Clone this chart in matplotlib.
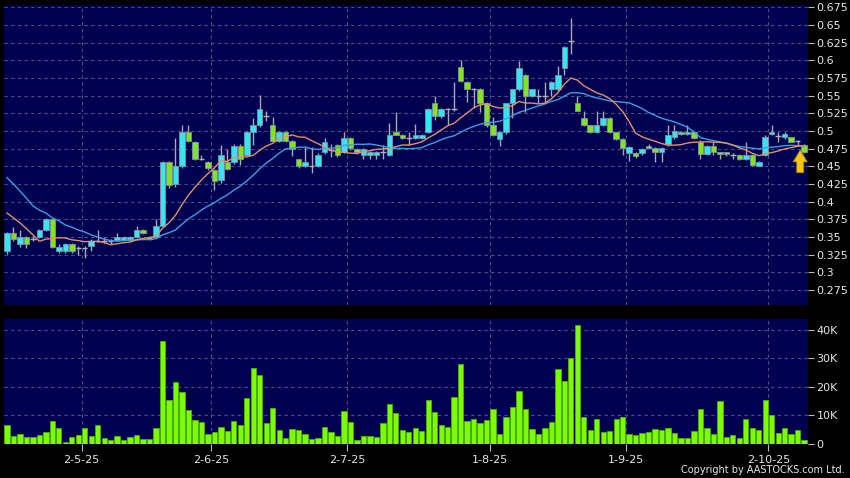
import numpy as np
import pandas as pd
import matplotlib
matplotlib.use("Agg")
import matplotlib.pyplot as plt
from matplotlib.ticker import FuncFormatter

# daily candles (HKD)
opens = [0.330, 0.355, 0.340, 0.350, 0.347, 0.350, 0.360, 0.375, 0.330, 0.330,
         0.340, 0.335, 0.335, 0.337, 0.345, 0.345, 0.344, 0.346, 0.346, 0.346,
         0.350, 0.360, 0.350, 0.350, 0.366, 0.456, 0.425, 0.450, 0.499, 0.485,
         0.461, 0.456, 0.445, 0.431, 0.456, 0.456, 0.479, 0.466, 0.499, 0.509,
         0.521, 0.509, 0.486, 0.499, 0.486, 0.460, 0.450, 0.450, 0.450, 0.470,
         0.473, 0.480, 0.471, 0.490, 0.475, 0.466, 0.466, 0.466, 0.471, 0.466,
         0.499, 0.495, 0.490, 0.490, 0.490, 0.499, 0.540, 0.521, 0.531, 0.531,
         0.590, 0.570, 0.560, 0.560, 0.539, 0.508, 0.488, 0.498, 0.539, 0.559,
         0.579, 0.549, 0.549, 0.550, 0.559, 0.559, 0.589, 0.628, 0.540, 0.519,
         0.508, 0.499, 0.508, 0.519, 0.498, 0.489, 0.469, 0.469, 0.469, 0.479,
         0.476, 0.470, 0.481, 0.491, 0.499, 0.496, 0.499, 0.485, 0.467, 0.479,
         0.470, 0.470, 0.466, 0.466, 0.461, 0.466, 0.451, 0.466, 0.496, 0.4925,
         0.491, 0.491, 0.4855, 0.480]
highs = [0.357, 0.364, 0.360, 0.352, 0.352, 0.362, 0.377, 0.376, 0.340, 0.342,
         0.342, 0.337, 0.337, 0.347, 0.360, 0.350, 0.347, 0.355, 0.352, 0.352,
         0.365, 0.361, 0.352, 0.375, 0.457, 0.458, 0.490, 0.509, 0.509, 0.486,
         0.466, 0.458, 0.446, 0.480, 0.474, 0.481, 0.481, 0.500, 0.519, 0.551,
         0.528, 0.520, 0.500, 0.500, 0.487, 0.461, 0.477, 0.477, 0.469, 0.490,
         0.481, 0.481, 0.499, 0.491, 0.476, 0.476, 0.472, 0.472, 0.480, 0.511,
         0.527, 0.496, 0.499, 0.510, 0.496, 0.532, 0.550, 0.532, 0.533, 0.570,
         0.600, 0.571, 0.561, 0.561, 0.541, 0.520, 0.500, 0.540, 0.560, 0.599,
         0.580, 0.560, 0.559, 0.569, 0.571, 0.592, 0.620, 0.660, 0.550, 0.529,
         0.509, 0.529, 0.529, 0.520, 0.499, 0.490, 0.479, 0.470, 0.476, 0.482,
         0.477, 0.477, 0.508, 0.509, 0.500, 0.509, 0.500, 0.487, 0.480, 0.485,
         0.471, 0.471, 0.469, 0.467, 0.485, 0.467, 0.457, 0.494, 0.509, 0.499,
         0.499, 0.492, 0.487, 0.481]
lows = [0.326, 0.344, 0.336, 0.335, 0.344, 0.348, 0.358, 0.335, 0.327, 0.327,
        0.328, 0.325, 0.320, 0.330, 0.343, 0.342, 0.340, 0.344, 0.344, 0.345,
        0.349, 0.354, 0.346, 0.349, 0.365, 0.420, 0.421, 0.448, 0.485, 0.459,
        0.459, 0.445, 0.417, 0.426, 0.445, 0.454, 0.452, 0.464, 0.480, 0.505,
        0.514, 0.485, 0.485, 0.485, 0.465, 0.447, 0.449, 0.441, 0.449, 0.468,
        0.463, 0.463, 0.469, 0.473, 0.468, 0.461, 0.461, 0.461, 0.461, 0.464,
        0.494, 0.489, 0.480, 0.489, 0.489, 0.497, 0.515, 0.519, 0.509, 0.529,
        0.569, 0.541, 0.532, 0.527, 0.506, 0.493, 0.479, 0.496, 0.519, 0.557,
        0.527, 0.548, 0.539, 0.539, 0.549, 0.557, 0.579, 0.609, 0.528, 0.507,
        0.497, 0.497, 0.507, 0.497, 0.487, 0.466, 0.458, 0.462, 0.466, 0.474,
        0.456, 0.456, 0.479, 0.489, 0.494, 0.494, 0.488, 0.461, 0.466, 0.466,
        0.461, 0.465, 0.461, 0.459, 0.459, 0.451, 0.450, 0.464, 0.494, 0.485,
        0.489, 0.484, 0.479, 0.469]
closes = [0.355, 0.347, 0.350, 0.340, 0.347, 0.360, 0.375, 0.336, 0.336, 0.340,
          0.330, 0.335, 0.335, 0.345, 0.345, 0.345, 0.344, 0.350, 0.350, 0.350,
          0.360, 0.356, 0.347, 0.365, 0.456, 0.424, 0.450, 0.499, 0.486, 0.461,
          0.461, 0.447, 0.429, 0.466, 0.446, 0.479, 0.460, 0.499, 0.509, 0.531,
          0.521, 0.486, 0.499, 0.486, 0.475, 0.450, 0.456, 0.450, 0.466, 0.485,
          0.473, 0.466, 0.490, 0.476, 0.470, 0.475, 0.470, 0.470, 0.471, 0.495,
          0.495, 0.490, 0.490, 0.495, 0.495, 0.531, 0.521, 0.531, 0.531, 0.531,
          0.571, 0.560, 0.560, 0.540, 0.508, 0.494, 0.498, 0.539, 0.559, 0.589,
          0.549, 0.559, 0.549, 0.550, 0.5695, 0.579, 0.619, 0.628, 0.529, 0.509,
          0.499, 0.508, 0.519, 0.499, 0.489, 0.476, 0.478, 0.465, 0.475, 0.476,
          0.470, 0.476, 0.495, 0.500, 0.496, 0.499, 0.490, 0.467, 0.479, 0.470,
          0.467, 0.467, 0.466, 0.461, 0.466, 0.452, 0.456, 0.491, 0.499, 0.4925,
          0.496, 0.485, 0.4855, 0.470]

# volume in thousands of shares
volume_k = [6.5, 2.6, 3.3, 2.4, 2.4, 2.9, 4.0, 7.9, 5.6, 0.6,
            2.4, 2.9, 5.6, 2.6, 6.4, 1.8, 1.4, 2.8, 1.1, 2.2,
            3.1, 1.5, 1.5, 5.3, 36.1, 15.3, 21.8, 18.1, 11.9, 8.2,
            7.6, 3.3, 3.9, 5.8, 4.4, 8.1, 6.4, 16.0, 26.5, 24.0,
            7.2, 12.6, 4.7, 1.9, 5.1, 4.7, 3.5, 1.6, 2.1, 5.8,
            4.0, 2.8, 11.4, 7.6, 1.3, 2.6, 2.6, 2.4, 7.4, 13.9,
            10.9, 4.7, 4.0, 5.3, 4.4, 15.4, 11.1, 6.4, 5.9, 16.4,
            28.1, 8.0, 8.8, 7.3, 8.2, 12.0, 3.2, 9.2, 12.9, 18.5,
            12.1, 5.2, 3.4, 5.5, 7.5, 26.1, 21.9, 30.0, 41.8, 9.4,
            4.7, 8.6, 4.1, 4.4, 8.8, 9.2, 3.3, 2.9, 3.6, 3.9,
            5.1, 4.9, 5.6, 3.6, 1.9, 1.9, 4.4, 12.0, 5.6, 3.4,
            15.1, 2.4, 2.9, 1.9, 8.5, 5.3, 4.8, 15.5, 9.9, 3.6,
            5.3, 3.3, 4.9, 1.4]

# moving averages before enough bars are on screen
ma10_head = [0.384, 0.377, 0.370, 0.362, 0.353, 0.344, 0.347, 0.348, 0.349]
ma20_head = [0.434, 0.425, 0.415, 0.405, 0.394, 0.388, 0.384, 0.377, 0.373, 0.367,
             0.364, 0.360, 0.357, 0.353, 0.350, 0.347, 0.345, 0.344, 0.345]

date_labels = ["2-5-25", "2-6-25", "2-7-25", "1-8-25", "1-9-25", "2-10-25"]
date_index = [11, 31, 52, 74, 95, 117]

df = pd.DataFrame({"open": opens, "high": highs, "low": lows,
                   "close": closes, "vol": volume_k})
ma10 = df["close"].rolling(10).mean()
ma10.iloc[:9] = ma10_head
ma20 = df["close"].rolling(20).mean()
ma20.iloc[:19] = ma20_head

x = np.arange(len(df))
up = df["close"] > df["open"]
down = df["close"] < df["open"]
flat = df["close"] == df["open"]

NAVY = "#000050"
GRID = "#4e4e86"
TXT = "#e6e6e6"
CYAN = "#38e4f2"
GREEN = "#82e41e"

fig = plt.figure(figsize=(8.5, 4.78), dpi=100, facecolor="black")
ax1 = fig.add_axes([4 / 850, 1 - 305 / 478, 804 / 850, 300 / 478])
ax2 = fig.add_axes([4 / 850, 1 - 443.5 / 478, 804 / 850, 124.5 / 478])

for ax in (ax1, ax2):
    ax.set_facecolor(NAVY)
    for s in ax.spines.values():
        s.set_visible(False)
    ax.set_axisbelow(True)
    ax.yaxis.tick_right()
    ax.tick_params(axis="y", colors=TXT, labelsize=8, length=4, width=0.8,
                   pad=2, color="#bbbbbb")
    ax.set_xlim(-0.46, 123.6)
    ax.set_xticks([i + 0.5 for i in date_index])
    ax.grid(True, color=GRID, linewidth=0.8, linestyle=(0, (3, 3)))

# candles
ax1.vlines(x, df["low"], df["high"], color="#a8a8b0", linewidth=1, zorder=2)
body_lo = np.minimum(df["open"], df["close"])
body_h = (df["close"] - df["open"]).abs()
ax1.bar(x[up], body_h[up], bottom=body_lo[up], width=0.85, color=CYAN,
        edgecolor="#7f92a0", linewidth=0.6, zorder=3)
ax1.bar(x[down], body_h[down], bottom=body_lo[down], width=0.85, color=GREEN,
        edgecolor="#7f92a0", linewidth=0.6, zorder=3)
ax1.hlines(df["close"][flat], x[flat] - 0.42, x[flat] + 0.42, color="#b0b0b8",
           linewidth=1, zorder=3)

ax1.plot(x, ma20, color="#3d9fe0", linewidth=1, zorder=4)
ax1.plot(x, ma10, color="#e0906a", linewidth=1, zorder=4)

# arrow marking the latest bar
ax1.annotate("", xy=(122.4, 0.473), xytext=(122.4, 0.441),
             arrowprops=dict(arrowstyle="simple,head_width=1.0,head_length=0.85,tail_width=0.5",
                             fc="#f7c41a", ec="#b88a00", lw=0.6, mutation_scale=10,
                             shrinkA=0, shrinkB=0), zorder=5)

ax1.set_ylim(0.2538, 0.6783)
ax1.set_yticks(np.arange(0.275, 0.676, 0.025))
ax1.yaxis.set_major_formatter(FuncFormatter(lambda v, p: f"{v:g}"))
ax1.tick_params(axis="x", length=0, labelbottom=False)

# volume
ax2.bar(x, df["vol"], width=0.82, color="#7cfc00", edgecolor="#4fae00",
        linewidth=0.6, zorder=3)
ax2.set_ylim(0, 43.9)
ax2.set_yticks([0, 10, 20, 30, 40])
ax2.yaxis.set_major_formatter(FuncFormatter(lambda v, p: "0" if v == 0 else f"{v:.0f}K"))
ax2.set_xticklabels(date_labels)
ax2.tick_params(axis="x", colors=TXT, labelsize=8, length=5, width=0.8,
                pad=3, color="#bbbbbb")

fig.text(0.994, 0.006, "Copyright by AASTOCKS.com Ltd.", color=TXT,
         fontsize=7, ha="right", va="bottom")

plt.savefig("out.png", dpi=100, facecolor="black")
